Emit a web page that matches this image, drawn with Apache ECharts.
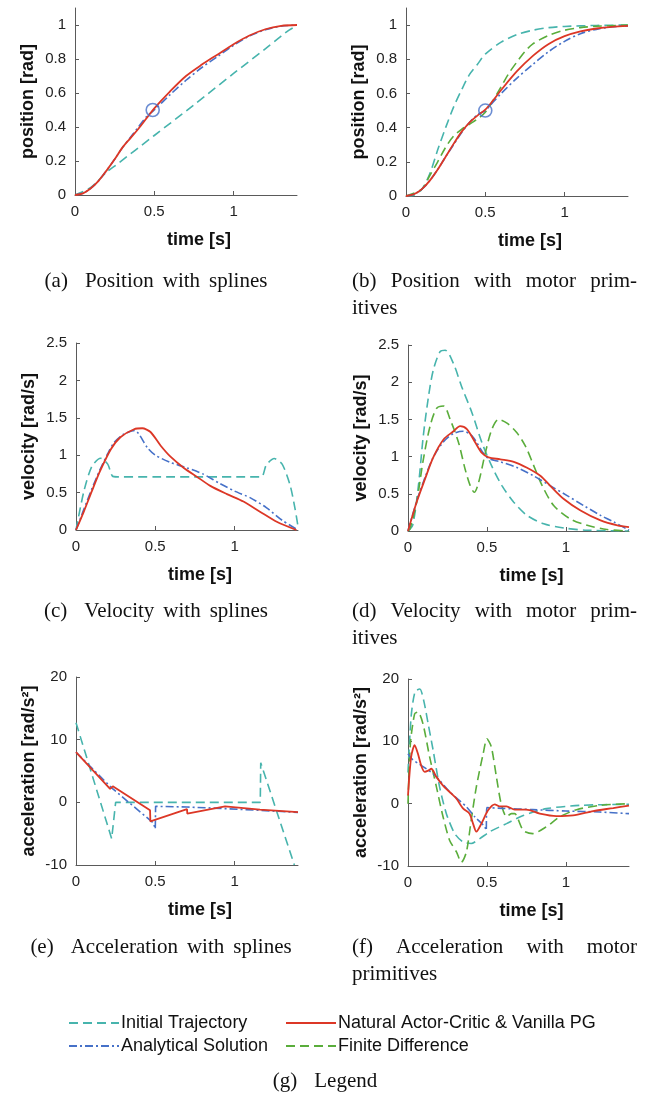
<!DOCTYPE html>
<html><head><meta charset="utf-8">
<script src="https://cdn.jsdelivr.net/npm/echarts@6/dist/echarts.min.js"></script>
<style>html,body{margin:0;padding:0;background:#fff}#c{width:650px;height:1100px}</style>
</head><body><div id="c"></div>
<script>
// ---------- tick labels ----------
const xTicks = [0, 0.5, 1];
const posTicks = [0, 0.2, 0.4, 0.6, 0.8, 1];
const velTicks = [0, 0.5, 1, 1.5, 2, 2.5];
const accTicks = [-10, 0, 10, 20];

// ---------- series names ----------
const NAME_INIT = 'Initial Trajectory';
const NAME_NAC = 'Natural Actor-Critic & Vanilla PG';
const NAME_ANA = 'Analytical Solution';
const NAME_FD = 'Finite Difference';

// ---------- (a) position with splines ----------
const posA_init = [[0,0],[0.1,0.045],[0.2,0.135],[0.25,0.17],[0.5,0.35],[0.75,0.53],[1.0,0.715],[1.2,0.86],[1.3,0.935],[1.35,0.97],[1.4,0.995]];
const posA_nac = [[0,0],[0.05,0.01],[0.1,0.04],[0.15,0.085],[0.2,0.145],[0.25,0.21],[0.3,0.28],[0.35,0.335],[0.4,0.39],[0.45,0.45],[0.5,0.51],[0.6,0.61],[0.7,0.70],[0.8,0.767],[0.9,0.827],[1.0,0.887],[1.1,0.938],[1.2,0.975],[1.3,0.995],[1.4,1.0]];
const posA_ana = [[0,0],[0.05,0.01],[0.1,0.04],[0.15,0.085],[0.2,0.145],[0.25,0.21],[0.3,0.28],[0.35,0.34],[0.4,0.4],[0.45,0.46],[0.5,0.5],[0.6,0.59],[0.7,0.675],[0.8,0.75],[0.9,0.815],[1.0,0.88],[1.1,0.935],[1.2,0.972],[1.3,0.993],[1.4,1.0]];
const markA = [[0.49, 0.5]];

// ---------- (b) position with motor primitives ----------
const posB_init = [[0,0],[0.05,0.005],[0.1,0.04],[0.15,0.13],[0.2,0.27],[0.25,0.4],[0.3,0.52],[0.35,0.62],[0.4,0.71],[0.45,0.77],[0.5,0.83],[0.6,0.9],[0.7,0.945],[0.8,0.97],[0.9,0.985],[1.0,0.992],[1.2,0.998],[1.4,1.0]];
const posB_fd = [[0,0],[0.1,0.04],[0.15,0.12],[0.2,0.2],[0.25,0.285],[0.3,0.35],[0.35,0.39],[0.4,0.42],[0.45,0.45],[0.5,0.49],[0.55,0.56],[0.6,0.64],[0.65,0.72],[0.7,0.785],[0.75,0.845],[0.8,0.89],[0.9,0.94],[1.0,0.97],[1.1,0.985],[1.2,0.993],[1.4,1.0]];
const posB_nac = [[0,0],[0.05,0.01],[0.1,0.04],[0.15,0.09],[0.2,0.155],[0.25,0.23],[0.3,0.305],[0.35,0.375],[0.4,0.43],[0.45,0.47],[0.5,0.505],[0.55,0.56],[0.6,0.62],[0.7,0.73],[0.8,0.82],[0.9,0.89],[1.0,0.935],[1.1,0.963],[1.2,0.98],[1.3,0.99],[1.4,0.995]];
const posB_ana = [[0,0],[0.05,0.01],[0.1,0.04],[0.15,0.09],[0.2,0.155],[0.25,0.23],[0.3,0.3],[0.35,0.37],[0.4,0.43],[0.45,0.475],[0.5,0.5],[0.55,0.55],[0.6,0.6],[0.7,0.69],[0.8,0.77],[0.9,0.845],[1.0,0.905],[1.1,0.95],[1.2,0.975],[1.3,0.99],[1.4,0.995]];
const markB = [[0.5, 0.5]];

// ---------- (c) velocity with splines ----------
const velC_init = [[0,0],[0.05,0.52],[0.1,0.85],[0.155,0.96],[0.2,0.88],[0.23,0.72],[0.26,0.71],[0.5,0.71],[0.8,0.71],[1.1,0.71],[1.17,0.71],[1.2,0.87],[1.25,0.955],[1.3,0.88],[1.35,0.6],[1.38,0.3],[1.4,0.05]];
const velC_nac = [[0,0],[0.05,0.25],[0.1,0.52],[0.15,0.78],[0.22,1.08],[0.28,1.24],[0.366,1.347],[0.418,1.36],[0.47,1.31],[0.533,1.13],[0.596,0.98],[0.68,0.83],[0.764,0.71],[0.847,0.59],[0.952,0.48],[1.056,0.38],[1.16,0.245],[1.266,0.11],[1.39,0]];
const velC_ana = [[0,0],[0.05,0.28],[0.1,0.55],[0.15,0.8],[0.2,1.02],[0.24,1.17],[0.3,1.28],[0.37,1.33],[0.45,1.1],[0.5,1.0],[0.6,0.9],[0.7,0.83],[0.8,0.75],[0.9,0.63],[1.0,0.52],[1.1,0.43],[1.2,0.3],[1.3,0.13],[1.4,0]];

// ---------- (d) velocity with motor primitives ----------
const velD_init = [[0,0],[0.03,0.08],[0.066,0.61],[0.097,1.28],[0.13,1.81],[0.16,2.16],[0.203,2.41],[0.235,2.43],[0.288,2.25],[0.34,1.94],[0.405,1.59],[0.468,1.19],[0.53,0.876],[0.595,0.61],[0.67,0.387],[0.754,0.21],[0.86,0.098],[0.987,0.04],[1.135,0.01],[1.4,0]];
const velD_fd = [[0,0],[0.013,0.03],[0.055,0.39],[0.097,0.96],[0.14,1.41],[0.182,1.65],[0.225,1.68],[0.267,1.5],[0.32,1.19],[0.362,0.83],[0.394,0.61],[0.42,0.52],[0.447,0.65],[0.49,1.05],[0.53,1.36],[0.574,1.5],[0.627,1.45],[0.69,1.32],[0.744,1.14],[0.797,0.876],[0.85,0.61],[0.924,0.34],[1.03,0.16],[1.135,0.076],[1.26,0.02],[1.4,0]];
const velD_nac = [[0,0],[0.055,0.39],[0.108,0.70],[0.16,0.99],[0.225,1.23],[0.288,1.34],[0.33,1.41],[0.373,1.37],[0.426,1.19],[0.468,1.05],[0.51,0.99],[0.585,0.964],[0.67,0.93],[0.754,0.85],[0.84,0.74],[0.9,0.61],[0.987,0.43],[1.093,0.276],[1.22,0.142],[1.326,0.076],[1.4,0.053]];
const velD_ana = [[0,0],[0.055,0.4],[0.108,0.72],[0.16,0.99],[0.225,1.2],[0.288,1.31],[0.35,1.34],[0.405,1.28],[0.5,0.99],[0.585,0.93],[0.69,0.853],[0.797,0.74],[0.9,0.61],[1.008,0.476],[1.114,0.34],[1.22,0.21],[1.305,0.12],[1.4,0.01]];

// ---------- (e) acceleration with splines ----------
const accE_init = [[0,12.7],[0.225,-5.8],[0.25,0],[0.6,0],[1.162,0],[1.165,6.3],[1.377,-10]];
const accE_nac = [[0,8.0],[0.215,2.13],[0.232,2.56],[0.467,-1.28],[0.469,-3.04],[0.70,-1.07],[0.702,-1.8],[0.94,-0.64],[1.16,-1.17],[1.4,-1.55]];
const accE_ana = [[0,8.0],[0.225,2.3],[0.488,-3.3],[0.5,-4.26],[0.502,-0.64],[0.7,-0.75],[0.94,-1.0],[1.16,-1.28],[1.4,-1.6]];

// ---------- (f) acceleration with motor primitives ----------
const accF_init = [[0,5],[0.02,14],[0.045,18],[0.075,18.4],[0.1,16.5],[0.13,12.5],[0.159,8.6],[0.2,2.7],[0.243,-1.6],[0.296,-4.8],[0.349,-6.15],[0.4,-6.4],[0.455,-5.6],[0.518,-4.5],[0.624,-3.2],[0.73,-1.9],[0.877,-0.8],[1.09,-0.27],[1.4,-0.1]];
const accF_fd = [[0,0],[0.015,9.6],[0.042,14.4],[0.063,14.7],[0.095,12.8],[0.137,7.5],[0.18,2.7],[0.222,-2.1],[0.264,-5.9],[0.307,-7.75],[0.338,-9.4],[0.37,-7.75],[0.40,-2.7],[0.433,2.7],[0.476,8.0],[0.5,10.4],[0.528,9.1],[0.56,4.3],[0.59,0],[0.624,-2.1],[0.655,-1.6],[0.676,-1.6],[0.73,-4.3],[0.79,-4.8],[0.877,-3.7],[0.962,-2.1],[1.068,-0.96],[1.216,-0.27],[1.4,0]];
const accF_nac = [[0,1.3],[0.02,7.5],[0.042,9.4],[0.063,8.0],[0.085,6.0],[0.106,5.1],[0.128,5.3],[0.148,5.6],[0.18,4.3],[0.222,2.9],[0.275,1.6],[0.307,0.8],[0.35,-0.8],[0.39,-1.6],[0.412,-3.2],[0.433,-4.5],[0.465,-3.2],[0.507,-1.07],[0.55,-0.1],[0.58,-0.43],[0.624,-0.43],[0.676,-0.96],[0.75,-0.96],[0.835,-1.6],[0.94,-2.0],[1.046,-1.87],[1.173,-1.18],[1.3,-0.7],[1.4,-0.3]];
const accF_ana = [[0,8.0],[0.03,7.06],[0.16,4.8],[0.264,1.9],[0.37,-0.5],[0.423,-2.1],[0.486,-3.7],[0.495,-4.3],[0.5,-0.64],[0.6,-0.75],[0.79,-0.96],[1.0,-1.18],[1.216,-1.34],[1.4,-1.6]];

// ---------- captions ----------
const capLeft = [['(a)', 'Position', 'with', 'splines'], ['(c)', 'Velocity', 'with', 'splines'], ['(e)', 'Acceleration', 'with', 'splines']];
const capRight = [['(b)', 'Position', 'with', 'motor', 'prim-'], ['(d)', 'Velocity', 'with', 'motor', 'prim-'], ['(f)', 'Acceleration', 'with', 'motor']];
const capRight2 = ['itives', 'itives', 'primitives'];
const capLegend = ['(g)', 'Legend'];

// ---------- styling / layout ----------
const COLORS = {};
COLORS[NAME_INIT] = '#47b4ad';
COLORS[NAME_NAC] = '#dc3726';
COLORS[NAME_ANA] = '#4671c8';
COLORS[NAME_FD] = '#5aad3b';
const DASH = {};
DASH[NAME_INIT] = [9, 5];
DASH[NAME_NAC] = 'solid';
DASH[NAME_ANA] = [8, 3, 2, 3];
DASH[NAME_FD] = [9, 5];

const grids = [
  {left: 75, top: 8, width: 222, height: 187},
  {left: 406, top: 8, width: 222, height: 188},
  {left: 76, top: 343, width: 222, height: 187},
  {left: 408, top: 345, width: 221, height: 186},
  {left: 76, top: 677, width: 222, height: 188},
  {left: 408, top: 679, width: 221, height: 187}
];
const yCfg = [
  {min: 0, max: 1.1, ticks: posTicks, name: 'position [rad]', interval: 0.2},
  {min: 0, max: 1.1, ticks: posTicks, name: 'position [rad]', interval: 0.2},
  {min: 0, max: 2.5, ticks: velTicks, name: 'velocity [rad/s]', interval: 0.5},
  {min: 0, max: 2.5, ticks: velTicks, name: 'velocity [rad/s]', interval: 0.5},
  {min: -10, max: 20, ticks: accTicks, name: 'acceleration [rad/s\u00B2]', interval: 10},
  {min: -10, max: 20, ticks: accTicks, name: 'acceleration [rad/s\u00B2]', interval: 10}
];
const panels = [
  [[NAME_INIT, posA_init], [NAME_ANA, posA_ana], [NAME_NAC, posA_nac]],
  [[NAME_INIT, posB_init], [NAME_FD, posB_fd], [NAME_ANA, posB_ana], [NAME_NAC, posB_nac]],
  [[NAME_INIT, velC_init], [NAME_ANA, velC_ana], [NAME_NAC, velC_nac]],
  [[NAME_INIT, velD_init], [NAME_FD, velD_fd], [NAME_ANA, velD_ana], [NAME_NAC, velD_nac]],
  [[NAME_INIT, accE_init], [NAME_ANA, accE_ana], [NAME_NAC, accE_nac]],
  [[NAME_INIT, accF_init], [NAME_FD, accF_fd], [NAME_ANA, accF_ana], [NAME_NAC, accF_nac]]
];
const smoothing = [0.3, 0.3, 0.25, 0.3, false, 0.25];
const markers = [markA, markB];

const SANS = '"Liberation Sans", Arial, Helvetica, sans-serif';
const SERIF = '"Liberation Serif", "Times New Roman", serif';
const AX = '#5a5a5a';

const xAxes = grids.map((g, i) => ({
  gridIndex: i, type: 'value', min: 0, max: 1.4, interval: 0.5,
  axisLine: {onZero: false, lineStyle: {color: AX, width: 1}},
  axisTick: {inside: true, length: 4, customValues: xTicks, lineStyle: {color: AX}},
  axisLabel: {customValues: xTicks, color: '#222', fontSize: 15, fontFamily: SANS, margin: 9, formatter: v => String(v)},
  splitLine: {show: false},
  name: 'time [s]', nameLocation: 'middle', nameGap: 36,
  nameTextStyle: {fontWeight: 'bold', fontSize: 18, color: '#111', fontFamily: SANS, padding: [0, 0, 0, 26]}
}));
const yAxes = grids.map((g, i) => ({
  gridIndex: i, type: 'value', min: yCfg[i].min, max: yCfg[i].max, interval: yCfg[i].interval,
  axisLine: {show: true, onZero: false, lineStyle: {color: AX, width: 1}},
  axisTick: {show: true, inside: true, length: 4, customValues: yCfg[i].ticks, lineStyle: {color: AX}},
  axisLabel: {customValues: yCfg[i].ticks, color: '#222', fontSize: 15, fontFamily: SANS, margin: 9, formatter: v => String(v)},
  splitLine: {show: false},
  name: yCfg[i].name, nameLocation: 'middle', nameGap: 38,
  nameTextStyle: {fontWeight: 'bold', fontSize: 18, color: '#111', fontFamily: SANS}
}));

const series = [];
panels.forEach((list, i) => {
  list.forEach(([name, data]) => {
    series.push({
      type: 'line', name: name, data: data, xAxisIndex: i, yAxisIndex: i,
      symbol: 'none', showSymbol: false, smooth: smoothing[i], animation: false,
      clip: true,
      z: name === NAME_NAC ? 4 : 3,
      lineStyle: {color: COLORS[name], type: DASH[name], width: name === NAME_NAC ? 1.8 : 1.6},
      itemStyle: {color: COLORS[name]}
    });
  });
});
markers.forEach((m, i) => {
  series.push({
    type: 'scatter', name: 'marker', data: m, xAxisIndex: i, yAxisIndex: i,
    symbol: 'circle', symbolSize: 13, z: 6, animation: false,
    itemStyle: {color: 'rgba(0,0,0,0)', borderColor: '#4671c8', borderWidth: 1.6}
  });
});

const legendBase = {
  orient: 'horizontal', itemWidth: 50, itemHeight: 14, itemGap: 0, padding: 0,
  selectedMode: false,
  itemStyle: {opacity: 0, borderWidth: 0},
  textStyle: {fontSize: 18, fontFamily: SANS, color: '#111', padding: [0, 0, 0, -3]}
};
const legends = [
  Object.assign({}, legendBase, {data: [NAME_INIT], left: 68, top: 1014}),
  Object.assign({}, legendBase, {data: [NAME_NAC], left: 285, top: 1014}),
  Object.assign({}, legendBase, {data: [NAME_ANA], left: 68, top: 1037}),
  Object.assign({}, legendBase, {data: [NAME_FD], left: 285, top: 1037})
];

// captions as graphic text
const graphics = [];
const capFont = '21px ' + SERIF;
const rowY = [281, 611, 947];
const lineGap = 27;
const leftCenters = [156, 156, 161];
const labelGap = 17, wordGap = 9;
const rightSpan = [352, 637];
const meas = document.createElement('canvas').getContext('2d');
meas.font = capFont;
function put(w, x, y) {
  graphics.push({type: 'text', x: x, y: y,
    style: {text: w, font: capFont, fill: '#111', textAlign: 'left', textVerticalAlign: 'middle'}});
}
function spaced(words, cx, y) {
  const widths = words.map(w => meas.measureText(w).width);
  const total = widths.reduce((a, b) => a + b, 0) + labelGap + wordGap * (words.length - 2);
  let x = cx - total / 2;
  words.forEach((w, j) => { put(w, x, y); x += widths[j] + (j === 0 ? labelGap : wordGap); });
}
function justify(words, x0, x1, y) {
  const widths = words.map(w => meas.measureText(w).width);
  const total = widths.reduce((a, b) => a + b, 0);
  const gap = (x1 - x0 - total) / (words.length - 1);
  let x = x0;
  words.forEach((w, j) => { put(w, x, y); x += widths[j] + gap; });
}
capLeft.forEach((words, k) => spaced(words, leftCenters[k], rowY[k]));
capRight.forEach((words, k) => {
  justify(words, rightSpan[0], rightSpan[1], rowY[k]);
  put(capRight2[k], rightSpan[0], rowY[k] + lineGap);
});
spaced(capLegend, 325, 1081);

const chart = echarts.init(document.getElementById('c'), null, {renderer: 'canvas'});
chart.setOption({
  animation: false,
  backgroundColor: '#fff',
  grid: grids,
  xAxis: xAxes,
  yAxis: yAxes,
  legend: legends,
  series: series,
  graphic: graphics
});
</script>
</body></html>
